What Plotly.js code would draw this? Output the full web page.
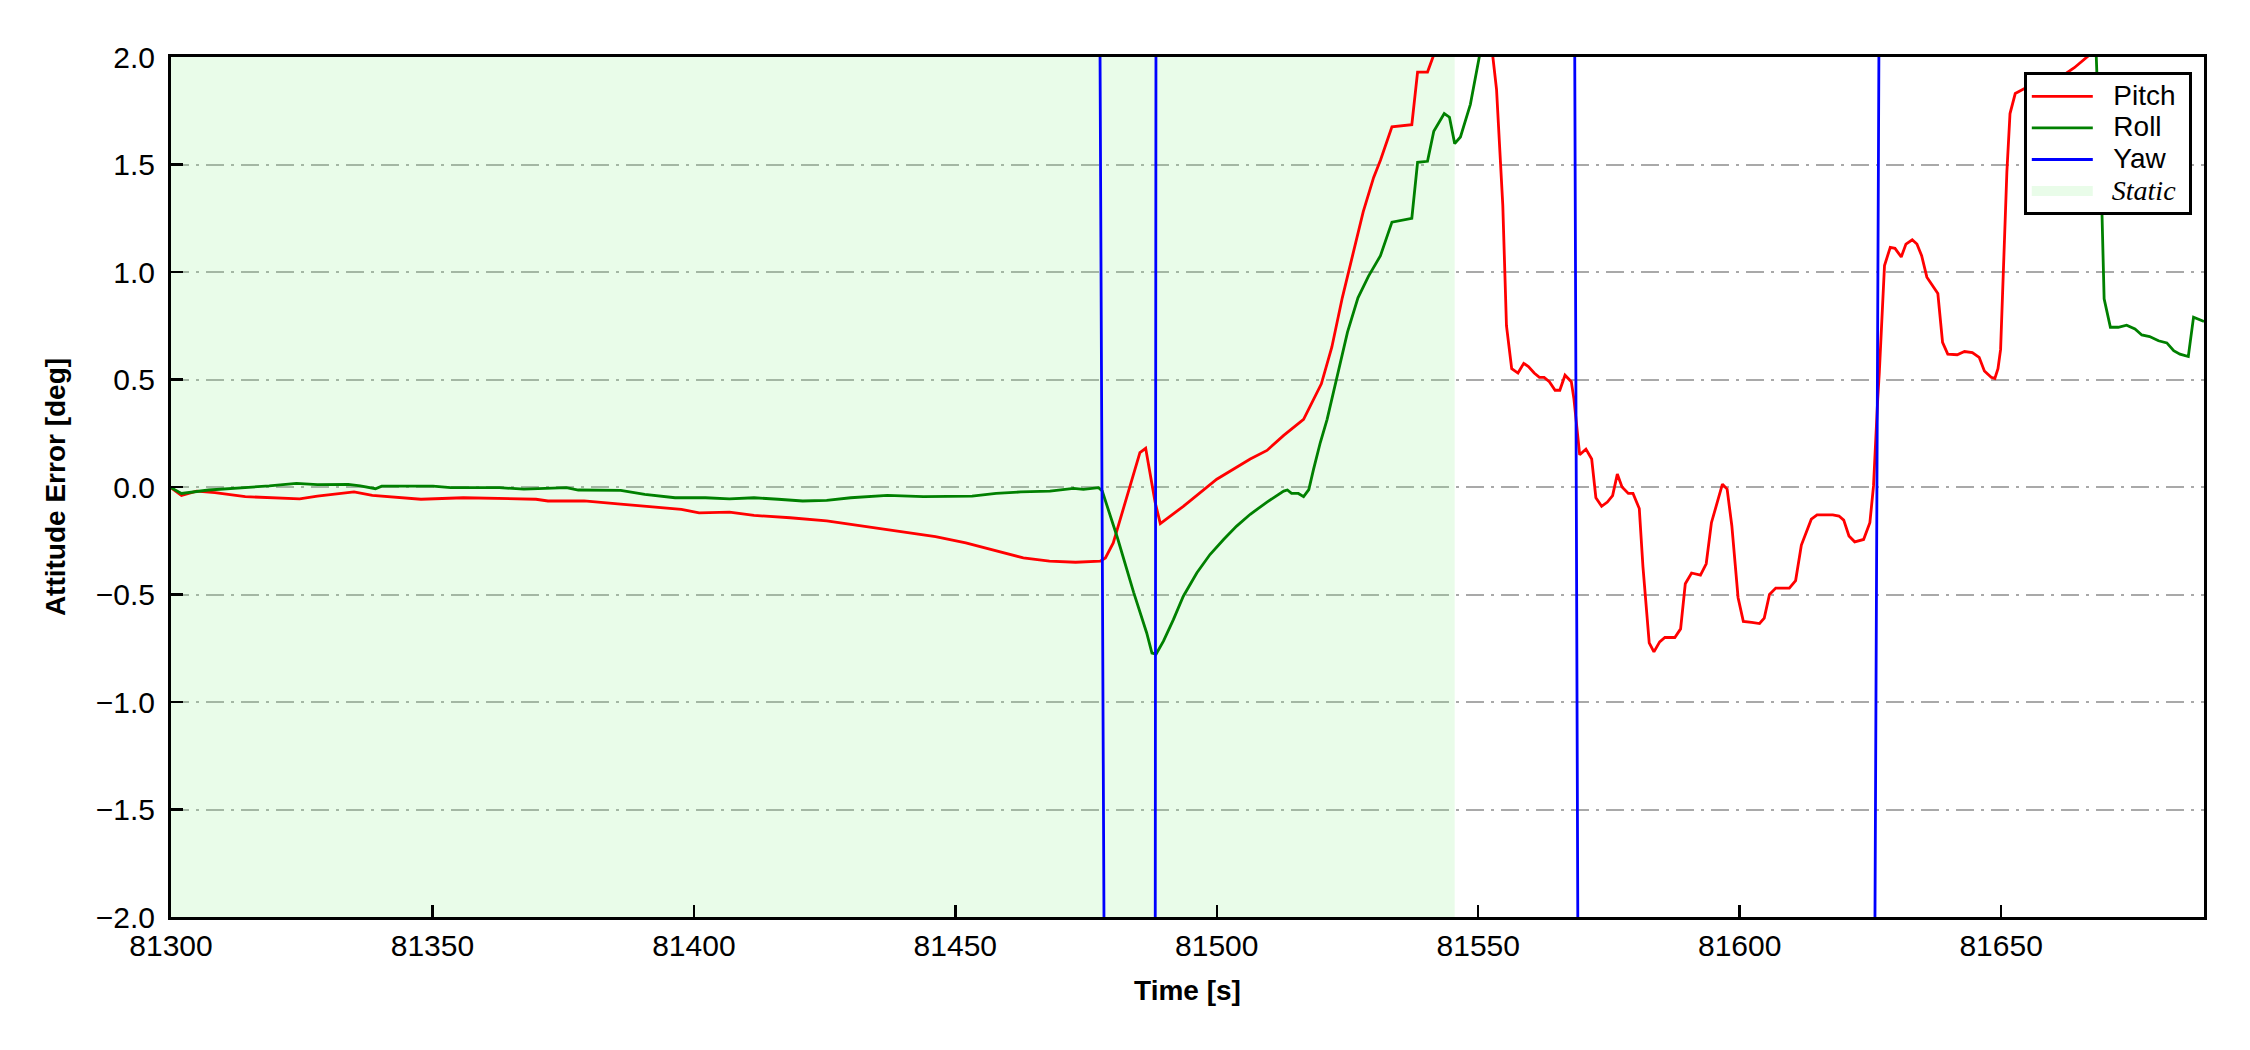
<!DOCTYPE html>
<html>
<head>
<meta charset="utf-8">
<script src="https://cdn.plot.ly/plotly-3.0.1.min.js"></script>
<style>
  html, body { margin: 0; padding: 0; background: #ffffff; }
  #chart { width: 2250px; height: 1050px; }
</style>
</head>
<body>
<div id="chart"></div>
<script>
// ---- Data ----
const pitchTime = [81300.0, 81302.0, 81304.9, 81308.4, 81314.2, 81318.8, 81324.6, 81328.0, 81335.0, 81338.5,
  81347.8, 81355.9, 81362.8, 81369.8, 81372.1, 81379.0, 81386.0, 81392.9, 81397.6, 81401.0,
  81406.8, 81411.5, 81418.4, 81425.4, 81432.3, 81439.3, 81446.2, 81452.0, 81458.0, 81463.0,
  81468.0, 81473.0, 81477.7, 81478.7, 81480.2, 81485.3, 81486.4, 81488.2, 81489.2, 81493.6,
  81500.0, 81506.4, 81509.6, 81512.8, 81516.6, 81518.0, 81520.0, 81522.0, 81524.0, 81526.0,
  81528.0, 81530.0, 81531.3, 81533.5, 81537.3, 81538.4, 81540.3, 81541.5, 81544.0, 81547.0,
  81550.0, 81552.8, 81553.5, 81554.7, 81555.4, 81556.4, 81557.6, 81558.7, 81559.6, 81560.7,
  81561.7, 81562.6, 81563.6, 81564.7, 81565.6, 81566.6, 81567.8, 81568.3, 81569.4, 81570.6,
  81571.7, 81572.5, 81573.6, 81574.7, 81575.7, 81576.6, 81577.5, 81578.7, 81579.6, 81580.8,
  81581.5, 81582.7, 81583.6, 81584.7, 81585.7, 81587.6, 81588.7, 81589.6, 81590.8, 81592.5,
  81593.6, 81594.6, 81595.5, 81596.7, 81597.6, 81598.5, 81599.7, 81600.7, 81602.3, 81603.8,
  81604.7, 81605.7, 81606.9, 81609.5, 81610.7, 81611.8, 81613.7, 81614.8, 81617.8, 81619.0,
  81619.9, 81620.9, 81622.0, 81623.7, 81624.9, 81625.6, 81626.4, 81626.7, 81627.7, 81628.8,
  81629.7, 81630.9, 81631.8, 81633.0, 81633.9, 81634.8, 81635.8, 81636.7, 81637.9, 81638.8,
  81639.8, 81641.6, 81643.0, 81644.5, 81645.8, 81646.8, 81648.1, 81648.8, 81649.4, 81649.9,
  81650.6, 81651.1, 81651.7, 81652.7, 81655.0, 81658.0, 81661.0, 81664.0, 81667.4, 81670.0,
  81680.0, 81688.8];
const pitchErr = [-0.003, -0.039, -0.019, -0.026, -0.045, -0.050, -0.055, -0.042, -0.023, -0.039,
  -0.057, -0.050, -0.055, -0.057, -0.065, -0.065, -0.080, -0.096, -0.104, -0.120,
  -0.117, -0.132, -0.143, -0.158, -0.182, -0.205, -0.231, -0.260, -0.300, -0.330,
  -0.345, -0.350, -0.345, -0.330, -0.260, 0.160, 0.180, -0.070, -0.170, -0.090,
  0.036, 0.130, 0.170, 0.240, 0.315, 0.380, 0.480, 0.650, 0.880, 1.080,
  1.280, 1.440, 1.520, 1.675, 1.685, 1.930, 1.930, 2.010, 2.200, 2.300,
  2.200, 2.000, 1.850, 1.310, 0.750, 0.550, 0.530, 0.575, 0.560, 0.530,
  0.510, 0.510, 0.490, 0.450, 0.450, 0.520, 0.490, 0.410, 0.150, 0.176,
  0.130, -0.050, -0.090, -0.070, -0.040, 0.060, 0.000, -0.030, -0.030, -0.100,
  -0.370, -0.725, -0.767, -0.720, -0.700, -0.700, -0.660, -0.450, -0.400, -0.410,
  -0.357, -0.166, -0.090, 0.013, -0.010, -0.180, -0.515, -0.625, -0.630, -0.635,
  -0.610, -0.500, -0.470, -0.470, -0.435, -0.270, -0.150, -0.130, -0.130, -0.135,
  -0.154, -0.228, -0.255, -0.244, -0.166, 0.005, 0.410, 0.530, 1.030, 1.115,
  1.110, 1.070, 1.130, 1.150, 1.130, 1.076, 0.976, 0.945, 0.900, 0.673,
  0.618, 0.615, 0.630, 0.625, 0.603, 0.540, 0.510, 0.505, 0.550, 0.640,
  1.154, 1.465, 1.737, 1.830, 1.860, 1.880, 1.900, 1.950, 2.020, 2.300,
  2.500, 2.500];

const rollTime = [81300.0, 81302.0, 81307.2, 81314.2, 81318.8, 81324.0, 81328.0, 81333.9, 81336.2, 81339.1,
  81340.3, 81350.1, 81353.5, 81362.8, 81367.5, 81375.6, 81377.9, 81386.0, 81390.6, 81396.4,
  81402.2, 81406.8, 81411.5, 81416.1, 81420.8, 81425.4, 81430.0, 81437.0, 81443.9, 81453.2,
  81457.8, 81462.5, 81468.1, 81472.6, 81474.5, 81477.4, 81478.1, 81481.0, 81484.1, 81486.6,
  81487.6, 81488.4, 81489.8, 81491.7, 81493.6, 81496.2, 81498.7, 81501.3, 81503.8, 81506.4,
  81509.6, 81512.8, 81513.5, 81514.3, 81515.6, 81516.6, 81517.6, 81518.5, 81519.8, 81521.1,
  81523.0, 81525.0, 81527.0, 81529.0, 81531.3, 81533.5, 81537.3, 81538.4, 81540.3, 81541.5,
  81543.5, 81544.5, 81545.5, 81546.6, 81548.5, 81549.4, 81550.2, 81552.0, 81560.0, 81600.0,
  81640.0, 81665.0, 81668.2, 81669.3, 81669.7, 81670.9, 81672.4, 81674.0, 81675.6, 81676.9,
  81678.4, 81680.1, 81681.7, 81683.0, 81684.2, 81685.8, 81686.8, 81688.8];
const rollErr = [-0.003, -0.030, -0.014, -0.003, 0.005, 0.017, 0.011, 0.012, 0.005, -0.008,
  0.004, 0.004, -0.003, -0.003, -0.010, -0.003, -0.014, -0.016, -0.034, -0.050,
  -0.050, -0.055, -0.050, -0.057, -0.065, -0.062, -0.050, -0.039, -0.045, -0.042,
  -0.030, -0.023, -0.019, -0.006, -0.011, -0.003, -0.019, -0.236, -0.490, -0.679,
  -0.772, -0.777, -0.717, -0.617, -0.508, -0.399, -0.314, -0.244, -0.182, -0.127,
  -0.070, -0.019, -0.014, -0.030, -0.030, -0.045, -0.012, 0.082, 0.207, 0.315,
  0.520, 0.720, 0.880, 0.980, 1.076, 1.232, 1.250, 1.510, 1.515, 1.655,
  1.737, 1.720, 1.597, 1.628, 1.780, 1.900, 2.000, 2.300, 2.600, 2.700,
  2.600, 2.300, 2.000, 1.263, 0.875, 0.743, 0.743, 0.753, 0.735, 0.707,
  0.700, 0.680, 0.670, 0.634, 0.618, 0.607, 0.790, 0.770];

// Yaw error wraps outside the +/-2 deg window, so only its crossings show
const yawTime = [81300.0, 81400.0, 81477.6, 81478.5, 81488.2, 81488.4, 81568.4, 81569.1, 81625.8, 81626.7, 81688.8];
const yawErr  = [3.0, 3.0, 2.4, -2.4, -3.0, 3.0, 2.4, -2.4, -2.4, 2.4, 3.0];

// Static period
const staticStart = 81300.0;
const staticEnd = 81545.5;

const xRange = [81300, 81688.8];
const yRange = [-2.0, 2.0];
const yTicks = [-2.0, -1.5, -1.0, -0.5, 0.0, 0.5, 1.0, 1.5, 2.0];
const xTicks = [81300, 81350, 81400, 81450, 81500, 81550, 81600, 81650];
const seriesNames = ['Pitch', 'Roll', 'Yaw', 'Static'];

// ---- Legend label helpers ----
const staticColor = 'rgba(144,238,144,0.2)';
const padL = '\u00A0\u00A0';
const padR = '\u00A0';
function legendLabel(name, extraStyle) {
  return '<span style="font-size:28px' + (extraStyle ? ';' + extraStyle : '') + '">' + padL + name + padR + '</span>';
}

// ---- Traces ----
const traces = [
  {
    x: [staticStart, staticEnd, staticEnd, staticStart, staticStart],
    y: [yRange[0], yRange[0], yRange[1], yRange[1], yRange[0]],
    type: 'scatter', mode: 'none', fill: 'toself', fillcolor: staticColor,
    showlegend: false, hoverinfo: 'skip'
  },
  { x: pitchTime, y: pitchErr, type: 'scatter', mode: 'lines', name: legendLabel(seriesNames[0]),
    line: { color: '#ff0000', width: 2.8 }, legendrank: 1 },
  { x: rollTime, y: rollErr, type: 'scatter', mode: 'lines', name: legendLabel(seriesNames[1]),
    line: { color: '#008000', width: 2.8 }, legendrank: 2 },
  { x: yawTime, y: yawErr, type: 'scatter', mode: 'lines', name: legendLabel(seriesNames[2]),
    line: { color: '#0000ff', width: 2.8 }, legendrank: 3 },
  { x: [null], y: [null], type: 'scatter', mode: 'lines',
    name: legendLabel(seriesNames[3], "font-family:'Liberation Serif';font-style:italic"),
    line: { color: staticColor, width: 20 }, legendrank: 4, hoverinfo: 'skip' }
];

const axisFont = { family: 'Liberation Sans, Arial, sans-serif', size: 30, color: '#000000' };
const titleFont = { family: 'Liberation Sans, Arial, sans-serif', size: 28, color: '#000000', weight: 'bold' };

const layout = {
  width: 2250, height: 1050,
  paper_bgcolor: '#ffffff', plot_bgcolor: '#ffffff',
  margin: { l: 171, r: 46, t: 57, b: 133 },
  showlegend: true,
  legend: {
    x: 0.994, y: 0.982, xanchor: 'right', yanchor: 'top',
    bgcolor: '#ffffff', bordercolor: '#000000', borderwidth: 3,
    font: { family: 'Liberation Sans, Arial, sans-serif', size: 22, color: '#000000' },
    itemwidth: 61, tracegroupgap: 0
  },
  xaxis: {
    range: xRange, tickvals: xTicks, ticktext: xTicks.map(String),
    showgrid: false, zeroline: false,
    showline: true, linecolor: '#000000', linewidth: 3, mirror: true,
    ticks: 'inside', ticklen: 12, tickwidth: 2.5, tickcolor: '#000000',
    tickfont: axisFont,
    title: { text: 'Time [s]', font: titleFont, standoff: 20 }
  },
  yaxis: {
    range: yRange, tickvals: yTicks, tickformat: '.1f',
    showgrid: true, gridcolor: '#a9a9a9', gridwidth: 2, griddash: '18px,7px,3px,7px',
    zeroline: false,
    showline: true, linecolor: '#000000', linewidth: 3, mirror: true,
    ticks: 'inside', ticklen: 12, tickwidth: 2.5, tickcolor: '#000000',
    ticklabelstandoff: 7,
    tickfont: axisFont,
    title: { text: 'Attitude Error [deg]', font: titleFont, standoff: 22 }
  }
};

Plotly.newPlot('chart', traces, layout, { staticPlot: true, displayModeBar: false });
</script>
</body>
</html>
